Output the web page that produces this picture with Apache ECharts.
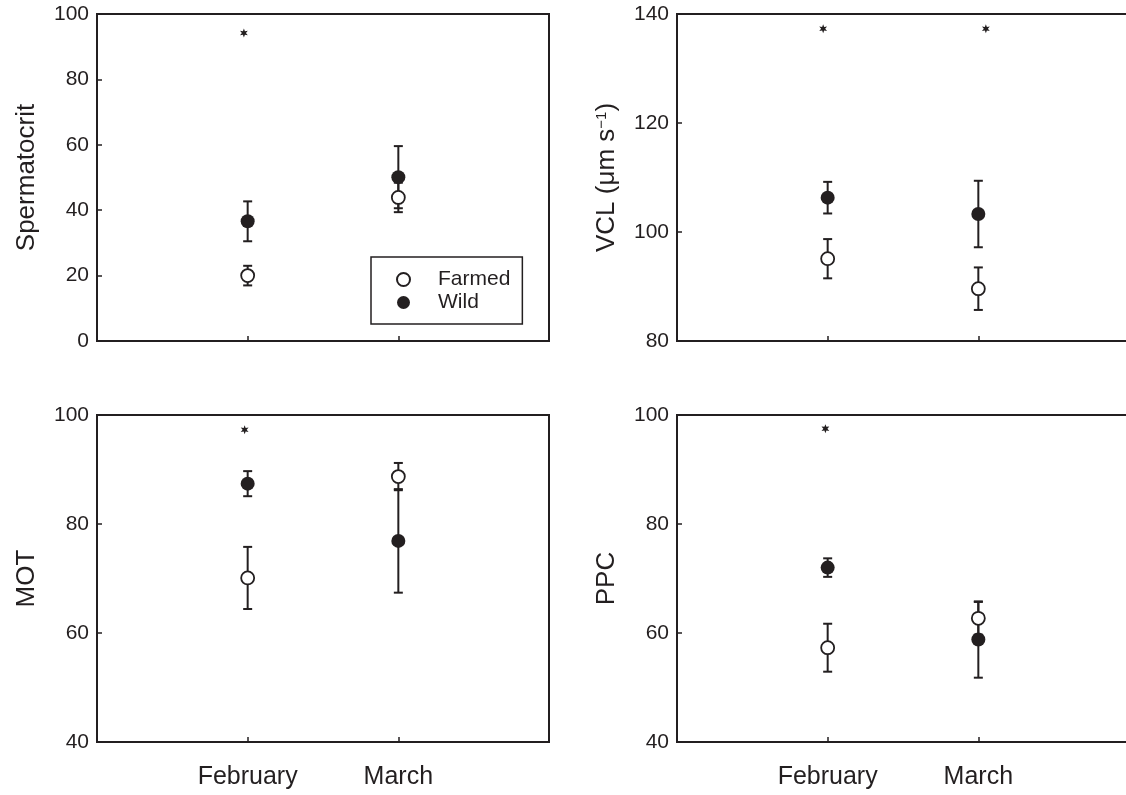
<!DOCTYPE html>
<html>
<head>
<meta charset="utf-8">
<script src="https://cdn.jsdelivr.net/npm/echarts@6/dist/echarts.min.js"></script>
<style>html,body{margin:0;padding:0;background:#fff}#c{width:1126px;height:795px}</style>
</head>
<body>
<div id="c"></div>
<script>
// ---- data ----
const categories = ['February', 'March'];
// Spermatocrit
const spermFarmed = [20.0, 43.9], spermFarmedErr = [3.0, 4.5];
const spermWild = [36.6, 50.1], spermWildErr = [6.1, 9.5];
const spermStarX = [0.975], spermStarY = [94.2];
// VCL
const vclFarmed = [95.1, 89.6], vclFarmedErr = [3.6, 3.9];
const vclWild = [106.3, 103.3], vclWildErr = [2.9, 6.1];
const vclStarX = [0.97, 2.05], vclStarY = [137.3, 137.3];
// MOT
const motFarmed = [70.1, 88.7], motFarmedErr = [5.7, 2.5];
const motWild = [87.4, 76.9], motWildErr = [2.3, 9.5];
const motStarX = [0.98], motStarY = [97.3];
// PPC
const ppcFarmed = [57.3, 62.7], ppcFarmedErr = [4.4, 3.0];
const ppcWild = [72.0, 58.8], ppcWildErr = [1.7, 7.0];
const ppcStarX = [0.985], ppcStarY = [97.5];
// axis ranges / ticks
const yTicks = [[0, 100, 20], [80, 140, 20], [40, 100, 20], [40, 100, 20]];

// ---- styling ----
const INK = '#231f20';
const FONT = '"Liberation Sans", Arial, Helvetica, sans-serif';
const STAR = 'path://M10,0 L12.25,6.1 L18.66,5 L14.5,10 L18.66,15 L12.25,13.9 L10,20 L7.75,13.9 L1.34,15 L5.5,10 L1.34,5 L7.75,6.1 Z';

const panels = [
  {name: 'Spermatocrit', f: spermFarmed, fe: spermFarmedErr, w: spermWild, we: spermWildErr, sx: spermStarX, sy: spermStarY},
  {name: '{a|VCL (μm s}{b|−1}{a|)}', f: vclFarmed, fe: vclFarmedErr, w: vclWild, we: vclWildErr, sx: vclStarX, sy: vclStarY},
  {name: 'MOT', f: motFarmed, fe: motFarmedErr, w: motWild, we: motWildErr, sx: motStarX, sy: motStarY},
  {name: 'PPC', f: ppcFarmed, fe: ppcFarmedErr, w: ppcWild, we: ppcWildErr, sx: ppcStarX, sy: ppcStarY}
];
const gridPos = [
  {left: 97, top: 14}, {left: 677, top: 14}, {left: 97, top: 415}, {left: 677, top: 415}
];

const grids = [], xAxes = [], yAxes = [], series = [];

function errRender(params, api) {
  const x = api.value(0), lo = api.value(1), hi = api.value(2);
  const p1 = api.coord([x, lo]), p2 = api.coord([x, hi]);
  const w = 4.5;
  const st = {stroke: INK, lineWidth: 2};
  return {type: 'group', children: [
    {type: 'line', shape: {x1: p1[0], y1: p1[1], x2: p2[0], y2: p2[1]}, style: st},
    {type: 'line', shape: {x1: p1[0] - w, y1: p1[1], x2: p1[0] + w, y2: p1[1]}, style: st},
    {type: 'line', shape: {x1: p2[0] - w, y1: p2[1], x2: p2[0] + w, y2: p2[1]}, style: st}
  ]};
}

panels.forEach((p, i) => {
  grids.push({left: gridPos[i].left, top: gridPos[i].top, width: 452, height: 327,
    outerBoundsMode: 'none', containLabel: false,
    show: true, borderColor: INK, borderWidth: 2, backgroundColor: 'transparent'});
  const bottomRow = i >= 2;
  xAxes.push({
    type: 'value', gridIndex: i, min: 0, max: 3, interval: 1,
    axisLine: {show: true, lineStyle: {color: INK, width: 2}},
    axisTick: {show: true, inside: true, length: 5, lineStyle: {color: INK, width: 1.5}},
    splitLine: {show: false},
    axisLabel: {show: bottomRow, margin: 23, fontSize: 25, color: INK, fontFamily: FONT,
      formatter: v => categories[v - 1] || ''}
  });
  yAxes.push({
    type: 'value', gridIndex: i, min: yTicks[i][0], max: yTicks[i][1], interval: yTicks[i][2],
    name: p.name, nameLocation: 'middle', nameGap: 57,
    nameTextStyle: {fontSize: 26, color: INK, fontFamily: FONT,
      rich: {a: {fontSize: 26, color: INK, fontFamily: FONT, verticalAlign: 'bottom'},
             b: {fontSize: 15, color: INK, fontFamily: FONT, verticalAlign: 'top'}}},
    axisLine: {show: true, lineStyle: {color: INK, width: 2}},
    axisTick: {show: true, inside: true, length: 5, lineStyle: {color: INK, width: 1.5}},
    splitLine: {show: false},
    axisLabel: {margin: 8, fontSize: 21, color: INK, fontFamily: FONT}
  });
  const errData = [];
  p.f.forEach((m, k) => errData.push([k + 1, m - p.fe[k], m + p.fe[k]]));
  p.w.forEach((m, k) => errData.push([k + 1, m - p.we[k], m + p.we[k]]));
  series.push({type: 'custom', xAxisIndex: i, yAxisIndex: i, renderItem: errRender,
    data: errData, z: 1, silent: true});
  series.push({type: 'scatter', name: 'Farmed', xAxisIndex: i, yAxisIndex: i, z: 3,
    symbol: 'circle', symbolSize: 13,
    itemStyle: {color: '#ffffff', borderColor: INK, borderWidth: 1.8, opacity: 1},
    data: p.f.map((m, k) => [k + 1, m])});
  series.push({type: 'scatter', name: 'Wild', xAxisIndex: i, yAxisIndex: i, z: 4,
    symbol: 'circle', symbolSize: 14,
    itemStyle: {color: INK, opacity: 1},
    data: p.w.map((m, k) => [k + 1, m])});
  series.push({type: 'scatter', name: 'sig', xAxisIndex: i, yAxisIndex: i, z: 4,
    symbol: STAR, symbolSize: 9, symbolKeepAspect: true,
    itemStyle: {color: INK, opacity: 1},
    data: p.sx.map((x, k) => [x, p.sy[k]])});
});

const chart = echarts.init(document.getElementById('c'), null, {renderer: 'canvas'});
chart.setOption({
  animation: false,
  backgroundColor: '#ffffff',
  textStyle: {fontFamily: FONT},
  grid: grids, xAxis: xAxes, yAxis: yAxes, series: series,
  legend: {
    data: ['Farmed', 'Wild'], orient: 'vertical', left: 371, top: 257,
    itemWidth: 13, itemHeight: 13, itemGap: 2, selectedMode: false,
    padding: [12, 12, 11, 25], borderColor: INK, borderWidth: 1.5,
    textStyle: {fontSize: 21, color: INK, fontFamily: FONT, lineHeight: 21, padding: [0, 0, 0, 23]}
  }
});
</script>
</body>
</html>
